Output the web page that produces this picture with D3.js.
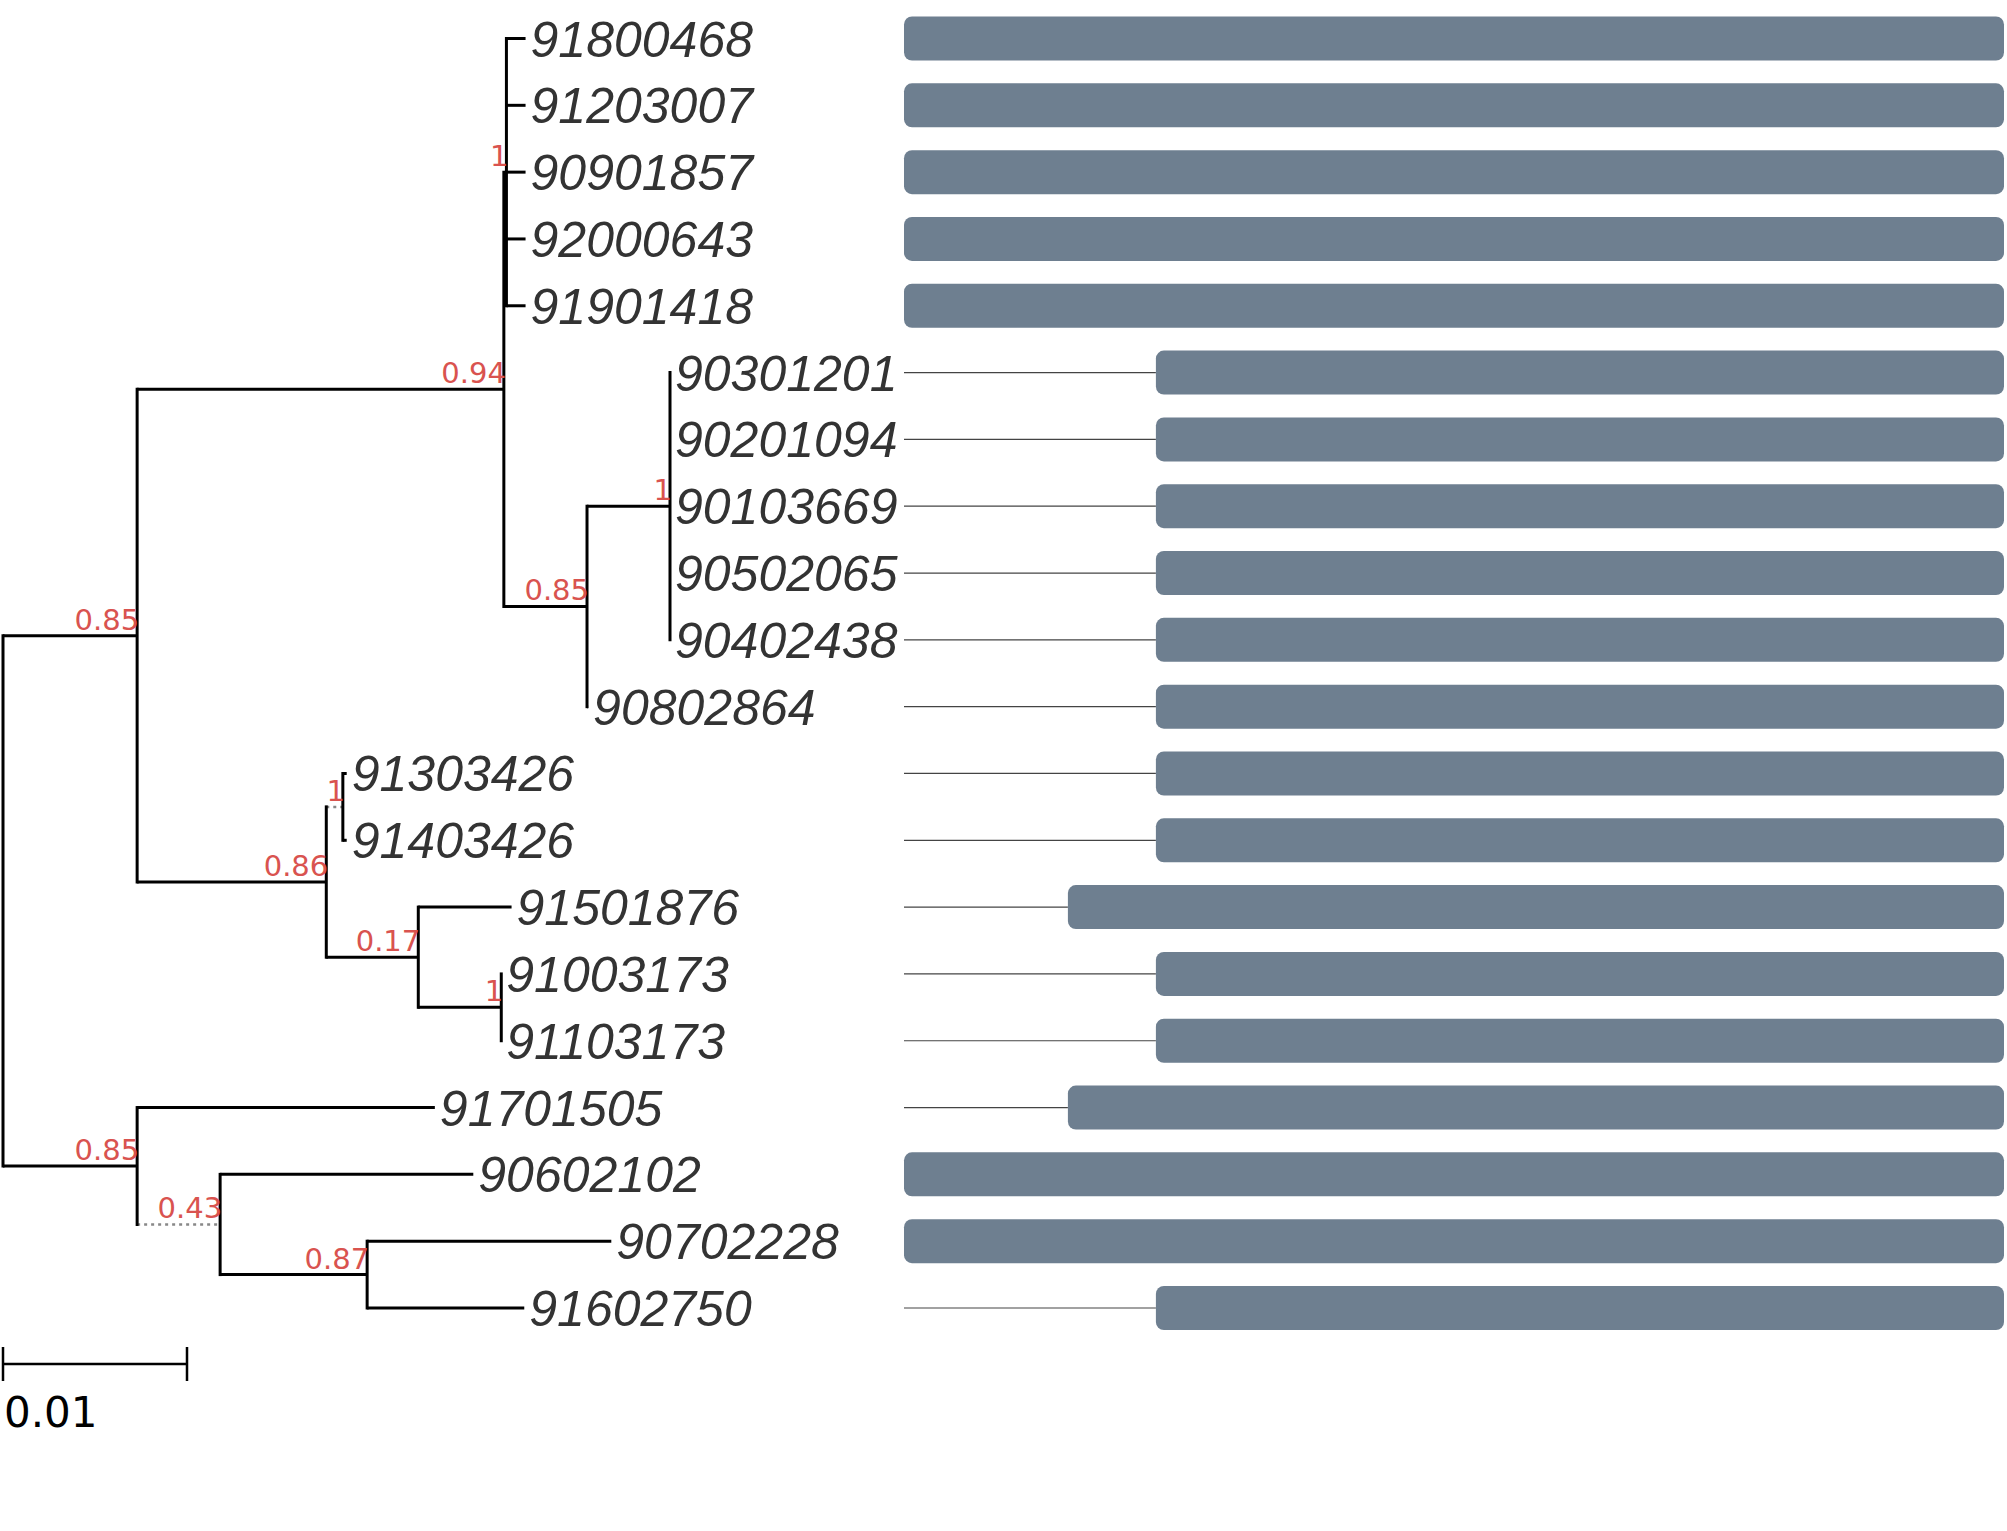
<html>
<head>
<script src="https://d3js.org/d3.v7.min.js"></script>
<style>
body { margin:0; padding:0; background:#fff; }
</style>
</head>
<body>
<script>
// tip order, top to bottom
var tips = ["91800468","91203007","90901857","92000643","91901418","90301201","90201094","90103669",
  "90502065","90402438","90802864","91303426","91403426","91501876","91003173","91103173",
  "91701505","90602102","90702228","91602750"];
// bar length (relative to the longest)
var barLen = [1,1,1,1,1,0.771,0.771,0.771,0.771,0.771,0.771,0.771,0.771,0.851,0.771,0.771,0.851,1,1,0.771];
// tree: name, depth (substitutions/site), support, dotted branch
var tree = {d:0, children:[
  {d:0.00729, s:"0.85", children:[
    {d:0.02722, s:"0.94", children:[
      {d:0.02736, s:"1", dot:true, children:[0,1,2,3,4].map(function(i){return {n:i, d:0.0284};})},
      {d:0.03174, s:"0.85", children:[
        {d:0.03625, s:"1", children:[5,6,7,8,9].map(function(i){return {n:i, d:0.03625};})},
        {n:10, d:0.0318}]}]},
    {d:0.01757, s:"0.86", children:[
      {d:0.01847, s:"1", dot:true, children:[{n:11, d:0.01868},{n:12, d:0.01868}]},
      {d:0.02257, s:"0.17", children:[
        {n:13, d:0.02764},
        {d:0.02708, s:"1", children:[{n:14, d:0.02708},{n:15, d:0.02708}]}]}]}]},
  {d:0.00729, s:"0.85", children:[
    {n:16, d:0.02347},
    {d:0.0118, s:"0.43", dot:true, children:[
      {n:17, d:0.02556},
      {d:0.01979, s:"0.87", children:[{n:18, d:0.03306},{n:19, d:0.02833}]}]}]}]};

var W = 2007, H = 1531;
var svg = d3.select("body").append("svg").attr("width", W).attr("height", H);
var x = d3.scaleLinear().domain([0, 0.01]).range([3, 187]);
var y = d3.scaleLinear().domain([0, 19]).range([38.5, 1308]);
var xb = d3.scaleLinear().domain([0, 1]).range([2004, 904]);

var root = d3.hierarchy(tree);
root.eachAfter(function(n){
  n.px = x(n.data.d);
  if (n.children) n.py = (n.children[0].py + n.children[n.children.length-1].py)/2;
  else n.py = y(n.data.n);
});

var g = svg.append("g");
// horizontal branches
root.descendants().filter(function(n){return n.parent;}).forEach(function(n){
  g.append("line").attr("x1", n.parent.px).attr("x2", n.px).attr("y1", n.py).attr("y2", n.py)
    .attr("stroke", n.data.dot ? "#888" : "#000").attr("stroke-width", n.data.dot ? 2.5 : 3)
    .attr("stroke-dasharray", n.data.dot ? "3,4" : null);
});
// vertical connectors
root.descendants().filter(function(n){return n.children;}).forEach(function(n){
  g.append("line").attr("x1", n.px).attr("x2", n.px)
    .attr("y1", n.children[0].py).attr("y2", n.children[n.children.length-1].py)
    .attr("stroke", "#000").attr("stroke-width", 3).attr("stroke-linecap", "square");
});
// support values
root.descendants().filter(function(n){return n.data.s;}).forEach(function(n){
  g.append("text").attr("x", n.px + 2).attr("y", n.py - 6).attr("text-anchor", "end")
    .attr("font-family", "DejaVu Sans").attr("font-size", 29).attr("fill", "#d9534f")
    .text(n.data.s);
});
// tip labels
root.leaves().forEach(function(n){
  g.append("text").attr("x", n.px + 5).attr("y", n.py).attr("dy", "0.36em")
    .attr("font-family", "Liberation Sans").attr("font-style", "italic").attr("font-size", 50)
    .attr("fill", "#333").text(tips[n.data.n]);
});
// bars with leader lines
tips.forEach(function(t, i){
  var x0 = xb(barLen[i]);
  if (x0 > 905) svg.append("line").attr("x1", 904).attr("x2", x0).attr("y1", y(i)).attr("y2", y(i))
    .attr("stroke", "#444").attr("stroke-width", 1.2);
  svg.append("rect").attr("x", x0).attr("y", y(i) - 22).attr("width", 2004 - x0).attr("height", 44)
    .attr("rx", 8).attr("fill", "#6e7f90");
});
// scale bar
var sy = 1364;
svg.append("path").attr("d", "M" + x(0) + "," + (sy-17) + "V" + (sy+17) + "M" + x(0) + "," + sy + "H" + x(0.01) +
  "M" + x(0.01) + "," + (sy-17) + "V" + (sy+17)).attr("stroke", "#000").attr("stroke-width", 2.5).attr("fill", "none");
svg.append("text").attr("x", 4).attr("y", 1427).attr("font-family", "DejaVu Sans").attr("font-size", 42)
  .attr("fill", "#000").text("0.01");
</script>
</body>
</html>
